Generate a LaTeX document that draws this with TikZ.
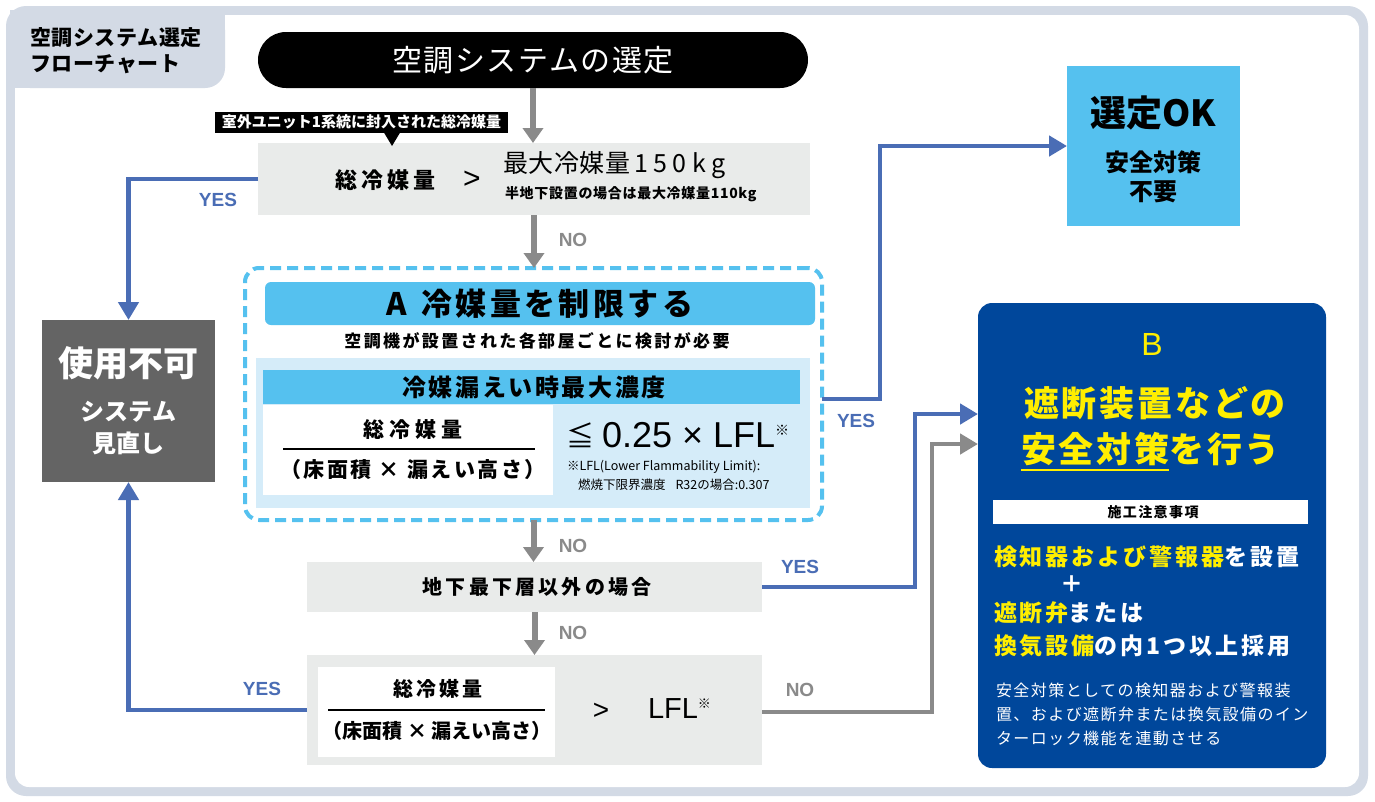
\documentclass[tikz,border=0pt]{standalone}
\usepackage{fontspec}
\setmainfont{Noto Sans CJK JP}
\newfontfamily\jpfont{Noto Sans CJK JP}
\newfontfamily\yesnofont{Liberation Sans}
\usepackage{xcolor}
\usetikzlibrary{arrows.meta,positioning}

\definecolor{framegray}{HTML}{D3DAE5}
\definecolor{boxgray}{HTML}{E9EBEA}
\definecolor{arrowgray}{HTML}{8A8A8A}
\definecolor{lineblue}{HTML}{4A6DB5}
\definecolor{cyanA}{HTML}{55C1EF}
\definecolor{panelblue}{HTML}{D5ECF9}
\definecolor{stopgray}{HTML}{646464}
\definecolor{navyB}{HTML}{00479B}
\definecolor{signyellow}{HTML}{FFEE00}

\newcommand{\fsz}[1]{\fontsize{#1}{#1}\selectfont}
\newcommand{\lsp}[1]{\addfontfeature{LetterSpace=#1}}
\newcommand{\yline}[1]{\vtop{\hbox{#1}\kern3pt\hrule height 2pt}}
\newcommand{\kome}[2]{\raisebox{#1}{\jpfont\fsz{#2}※}}

\begin{document}
\begin{tikzpicture}[
    x=1pt, y=-1pt,
    every node/.style={inner sep=0pt, outer sep=0pt},
    graybox/.style={fill=boxgray},
    grayarrow/.style={draw=arrowgray, line width=6pt, -{Triangle[width=20pt,length=15pt]}},
    bluearrow/.style={draw=lineblue, line width=4.5pt, -{Triangle[width=20pt,length=18pt]}},
    bluegrayarrow/.style={draw=arrowgray, line width=4.5pt, -{Triangle[width=20pt,length=18pt]}},
    yeslabel/.style={text=lineblue, font=\yesnofont\bfseries\fsz{19}},
    nolabel/.style={text=arrowgray, font=\yesnofont\bfseries\fsz{19}},
    jpbold/.style={font=\bfseries\fsz{#1}}
]
\useasboundingbox (0,0) rectangle (1375,801);

% frame and tab
\fill[framegray, rounded corners=20pt] (6,6) rectangle (1368,796);
\fill[white, rounded corners=14pt] (15,15) rectangle (1359,787);
\fill[framegray] (10,10) rectangle (225,68);
\fill[framegray] (10,10) rectangle (205,88);
\fill[framegray, rounded corners=20pt] (10,10) rectangle (225,88);
\node[jpbold=21, anchor=west, align=left] (tab) at (30,51) {\lsp{3}空調システム選定\\[5pt]\lsp{3}フローチャート};

% start
\node[fill=black, rounded corners=28pt, minimum width=550pt, minimum height=56pt,
      text=white, font=\fsz{30}\lsp{5}] (start) at (533,60) {空調システムの選定};

% total refrigerant check
\node[graybox, minimum width=552pt, minimum height=72pt] (total) at (534,179) {};
\node[jpbold=22, anchor=west] (totalL) at (335,180) {\lsp{19}総冷媒量};
\node[font=\yesnofont\fsz{30}] (totalGt) at (472,180) {>};
\node[font=\fsz{25}, anchor=west] (totalR) at (503,165) {\lsp{2}最大冷媒量\hspace{4pt}\lsp{22}150kg};
\node[jpbold=14, anchor=west] (totalS) at (505,194) {\lsp{5}半地下設置の場合は最大冷媒量110kg};
\node[fill=black, text=white, jpbold=15, minimum width=293pt, minimum height=21pt] (unitnote) at (361.5,122) {室外ユニット1系統に封入された総冷媒量};
\fill (383,131) -- (401,131) -- (392,146) -- cycle;

% A: limit refrigerant
\node[draw=cyanA, line width=4pt, dash pattern=on 11pt off 6pt, rounded corners=14pt,
      minimum width=577pt, minimum height=252pt] (limitA) at (533.5,394) {};
\node[fill=cyanA, rounded corners=6pt, minimum width=550pt, minimum height=43pt,
      jpbold=31] (headA) at (540,303.5) {\lsp{11}A\hspace{14pt}冷媒量を制限する};
\node[jpbold=17] (noteA) at (537,341) {\lsp{14}空調機が設置された各部屋ごとに検討が必要};
\node[fill=panelblue, minimum width=554pt, minimum height=150pt] (panelA) at (533,433) {};
\node[fill=cyanA, minimum width=537pt, minimum height=34pt] (barA) at (531.5,387) {};
\node[jpbold=24] (barAT) at (534,387) {\lsp{11}冷媒漏えい時最大濃度};
\node[fill=white, minimum width=290pt, minimum height=90pt] (fracA) at (408,450) {};
\node[jpbold=21] (numA) at (413,429) {\lsp{25}総冷媒量};
\draw[line width=1.2pt] (283,449) -- (535,449);
\node[jpbold=21] (denA) at (413,470) {\lsp{12}（床面積 × 漏えい高さ）};
\node[font=\fsz{28}, anchor=west] (leA) at (566,435) {≦};
\node[font=\yesnofont\fsz{36}, anchor=west] (leB) at (602,435) {0.25 × LFL\kome{12pt}{14}};
\node[font=\fsz{12.5}, anchor=west] (lflA) at (567,467) {※LFL(Lower Flammability Limit):};
\node[font=\fsz{12.5}, anchor=west] (r32A) at (578,485) {燃焼下限界濃度\hspace{10pt}R32の場合:0.307};

% OK
\node[fill=cyanA, minimum width=173pt, minimum height=160pt] (okbox) at (1153.5,146) {};
\node[jpbold=36] (okT) at (1153.5,113) {選定OK};
\node[jpbold=24] (ok1) at (1153.5,162) {安全対策};
\node[jpbold=24] (ok2) at (1153.5,192) {不要};

% unusable
\node[fill=stopgray, minimum width=173pt, minimum height=162pt] (stop) at (128.5,401) {};
\node[jpbold=35, text=white] (stopT) at (128.5,363) {使用不可};
\node[jpbold=24, text=white] (stop1) at (128.5,412) {システム};
\node[jpbold=24, text=white] (stop2) at (128.5,443) {見直し};

% lowest basement
\node[graybox, minimum width=455pt, minimum height=50pt] (floor) at (534.5,587) {};
\node[jpbold=20] (floorT) at (537,587) {\lsp{16}地下最下層以外の場合};

% LFL check
\node[graybox, minimum width=455pt, minimum height=110pt] (check) at (534.5,710) {};
\node[fill=white, minimum width=237pt, minimum height=90pt] (fracC) at (436.5,712) {};
\node[jpbold=20] (numC) at (438,689) {\lsp{15}総冷媒量};
\draw[line width=1.2pt] (328,710) -- (545,710);
\node[jpbold=20] (denC) at (437,731) {（床面積 × 漏えい高さ）};
\node[font=\yesnofont\fsz{28}] (gtC) at (601,711) {>};
\node[font=\yesnofont\fsz{29}, anchor=west] (lflC) at (648,709) {LFL\kome{10pt}{13}};

% B: safety measures
\node[fill=navyB, rounded corners=14pt, minimum width=348pt, minimum height=465pt] (bbox) at (1152,535.5) {};
\node[font=\yesnofont\fsz{32}, text=signyellow] (bT) at (1152,344) {B};
\node[jpbold=35, text=signyellow] (b1) at (1155,403) {\lsp{8}遮断装置などの};
\node[jpbold=35, text=signyellow, anchor=west] (b2) at (1021,452) {\lsp{8}\yline{安全対策}を行う};
\node[fill=white, minimum width=315pt, minimum height=24pt] (bnote) at (1150.5,512) {};
\node[jpbold=14] (bnoteT) at (1153,512) {\lsp{10}施工注意事項};
\node[jpbold=23, text=white, anchor=west] (bl1) at (994,557) {\lsp{13}{\color{signyellow}検知器および警報器}を設置};
\node[jpbold=23, text=white] (bplus) at (1072,584) {＋};
\node[jpbold=23, text=white, anchor=west] (bl2) at (994,613) {\lsp{13}{\color{signyellow}遮断弁}または};
\node[jpbold=23, text=white, anchor=west] (bl3) at (994,646) {\lsp{13}{\color{signyellow}換気設備}の内1つ以上採用};
\node[font=\fsz{16}\lsp{9}, text=white, anchor=west, align=left] (bsmall) at (996,714)
    {安全対策としての検知器および警報装\\[8pt]置、および遮断弁または換気設備のイン\\[8pt]ターロック機能を連動させる};

% arrows
\draw[grayarrow] (start.south) -- (start.south |- total.north);
\draw[grayarrow] (total.south) -- (total.south |- limitA.north);
\draw[grayarrow] (limitA.south) -- (limitA.south |- floor.north);
\draw[grayarrow] (floor.south) -- (floor.south |- check.north);
\draw[bluearrow] (total.west) -| (stop.north);
\draw[bluearrow] (check.west) -| (stop.south);
\draw[bluearrow] (limitA.east |- 0,399) -- (880,399) |- (okbox.west);
\draw[bluearrow] (floor.east) -- (915,587) |- (bbox.west |- 0,414);
\draw[bluegrayarrow] (check.east |- 0,712) -- (932,712) |- (bbox.west |- 0,444);

% labels
\node[yeslabel] (yes1) at (218,200) {YES};
\node[nolabel] (no1) at (573,240) {NO};
\node[yeslabel] (yes2) at (856,421) {YES};
\node[nolabel] (no2) at (573,546) {NO};
\node[yeslabel] (yes3) at (800,567) {YES};
\node[nolabel] (no3) at (573,633) {NO};
\node[yeslabel] (yes4) at (262,689) {YES};
\node[nolabel] (no4) at (800,690) {NO};

\end{tikzpicture}
\end{document}
